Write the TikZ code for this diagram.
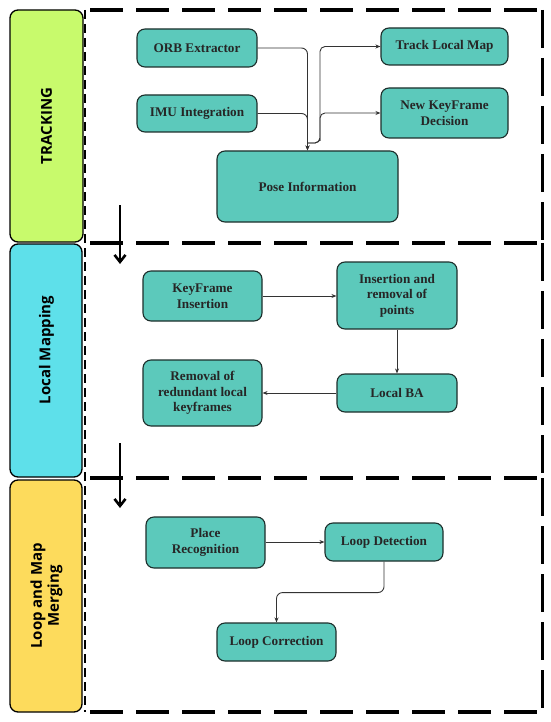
\documentclass[tikz,border=0pt]{standalone}
\usepackage{fontspec}
\setmainfont{Liberation Serif}
\newfontfamily\barfont{Open Sans}
\usetikzlibrary{arrows.meta}
\definecolor{teal1}{HTML}{5CC9BB}
\definecolor{edge1}{HTML}{1C2E2B}
\definecolor{limebar}{HTML}{C8FA6C}
\definecolor{cyanbar}{HTML}{5EE0EA}
\definecolor{yellowbar}{HTML}{FDDB5C}
\tikzset{
  box/.style={draw=edge1, line width=1.1pt, fill=teal1, rounded corners=8pt,
    align=center, font=\fontsize{13.2}{15.5}\selectfont\bfseries, text=black!85, inner sep=2pt},
  conn/.style={draw=black!80, line width=0.9pt, -{Stealth[length=5pt,width=4pt]}},
  bar/.style={draw=black, line width=1.3pt, rounded corners=8pt},
  barlabel/.style={rotate=90, align=center, font=\barfont\fontsize{15}{17}\selectfont\bfseries},
  hdash/.style={line width=3.2pt, dash pattern=on 33pt off 13pt},
  vdash/.style={line width=3pt, dash pattern=on 38pt off 10pt},
  ldash/.style={line width=1.4pt, dash pattern=on 9pt off 5pt},
  secarrow/.style={line width=2.6pt, -{Straight Barb[length=7pt,width=11pt,line width=2.6pt]}}
}
\begin{document}
\begin{tikzpicture}[x=1pt,y=-1pt]
\useasboundingbox (0,0) rectangle (550,722);
% bars
\draw[bar, fill=limebar] (10,10) rectangle (83,242);
\draw[bar, fill=cyanbar] (10,244) rectangle (82,477);
\draw[bar, fill=yellowbar] (10,480) rectangle (82,712);
\node[barlabel] (lt) at (46.5,126) {TRACKING};
\node[barlabel] (lm) at (46.5,350) {Local Mapping};
\node[barlabel] (lmm) at (46.5,596) {Loop and Map\\Merging};
% frames
\draw[ldash] (85,10) -- (85,712);
\draw[hdash] (90,10) -- (542,10);
\draw[hdash] (90,243) -- (542,243);
\draw[hdash] (90,478) -- (542,478);
\draw[hdash] (90,712) -- (542,712);
\draw[vdash] (542,10) -- (542,243);
\draw[vdash] (542,243) -- (542,478);
\draw[vdash] (542,478) -- (542,712);
% tracking nodes
\node[box, minimum width=120pt, minimum height=38pt] (orb) at (197,48) {ORB Extractor};
\node[box, minimum width=120pt, minimum height=37pt] (imu) at (197,113.5) {IMU Integration};
\node[box, minimum width=181pt, minimum height=71pt] (pose) at (307.5,186.5) {Pose Information};
\node[box, minimum width=127pt, minimum height=37pt] (tlm) at (444.5,46.5) {Track Local Map};
\node[box, minimum width=127pt, minimum height=50pt] (nkf) at (444.5,113) {New KeyFrame\\Decision};
\draw[conn, rounded corners=6pt] (orb.east) -| (pose.north);
\draw[conn, rounded corners=6pt] (imu.east) -| (pose.north);
\coordinate (split) at (307.5,143);
\coordinate (j) at (320,136);
\draw[conn, rounded corners=5pt] (split) -| (j) |- (tlm.west);
\draw[conn, rounded corners=5pt] (split) -| (j) |- (nkf.west);
% local mapping nodes
\node[box, minimum width=119pt, minimum height=50pt] (kfi) at (202.5,296) {KeyFrame\\Insertion};
\node[box, minimum width=120pt, minimum height=67pt] (irp) at (397,295.5) {Insertion and\\removal of\\points};
\node[box, minimum width=120pt, minimum height=38pt] (lba) at (397,393) {Local BA};
\node[box, minimum width=119pt, minimum height=66pt] (rrk) at (202.5,393) {Removal of\\redundant local\\keyframes};
\draw[conn] (kfi.east) -- (irp.west |- kfi.east);
\draw[conn] (irp.south) -- (lba.north);
\draw[conn] (lba.west) -- (rrk.east);
% loop nodes
\node[box, minimum width=119pt, minimum height=51pt] (pr) at (205.5,542.5) {Place\\Recognition};
\node[box, minimum width=118pt, minimum height=38pt] (ld) at (384,542) {Loop Detection};
\node[box, minimum width=119pt, minimum height=38pt] (lc) at (276.5,642) {Loop Correction};
\draw[conn] (pr.east |- ld.west) -- (ld.west);
\draw[conn, rounded corners=6pt] (ld.south) -- ++(0,31) -| (lc.north);
% section arrows
\coordinate (a1s) at (120,205);
\coordinate (a1e) at (120,264);
\coordinate (a2s) at (120,443);
\coordinate (a2e) at (120,508);
\draw[secarrow] (a1s) -- (a1e);
\draw[secarrow] (a2s) -- (a2e);
\end{tikzpicture}
\end{document}
